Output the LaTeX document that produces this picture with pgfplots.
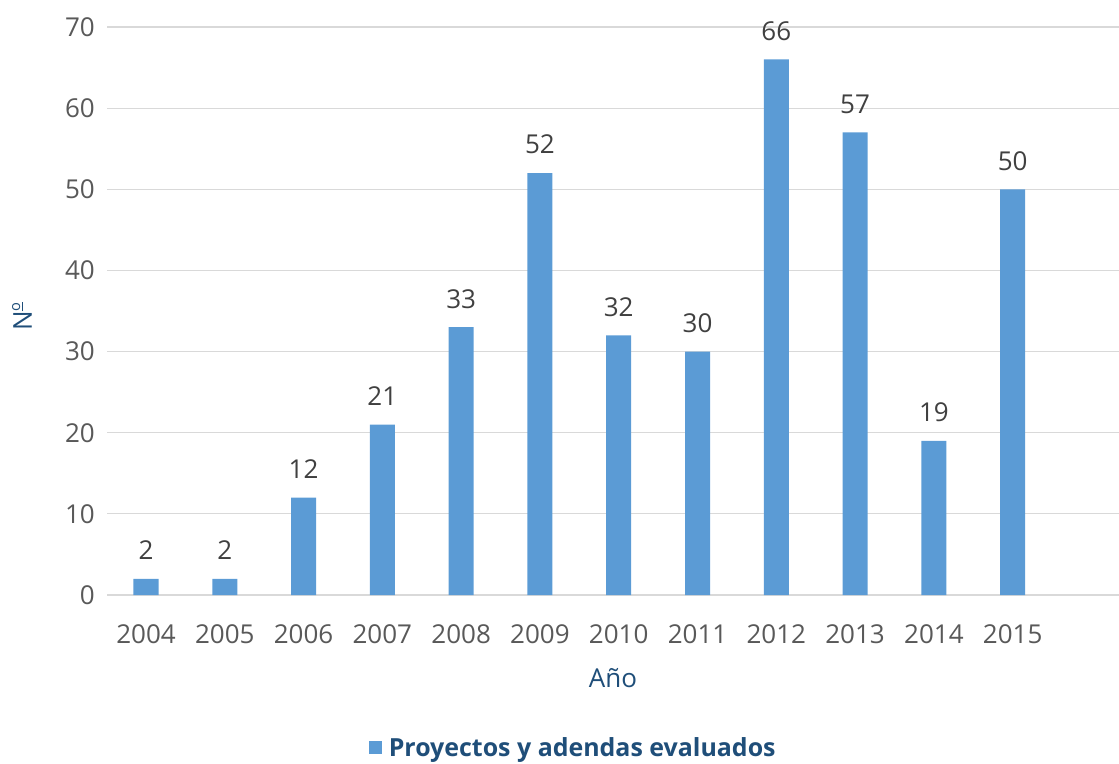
\documentclass[border=0pt]{standalone}
\usepackage{fontspec}
\setmainfont{Open Sans}
\usepackage{pgfplots}
\pgfplotsset{compat=1.18}
\definecolor{barblue}{HTML}{5B9BD5}
\definecolor{gridgray}{HTML}{D9D9D9}
\definecolor{tickgray}{HTML}{595959}
\definecolor{lblgray}{HTML}{404040}
\definecolor{darkblue}{HTML}{1F4E79}
\newcommand{\ordo}{\raisebox{0.32em}{\fontsize{11}{12}\selectfont\setbox0\hbox{o}\vbox{\copy0\kern1.2pt\hrule width\wd0 height 1.1pt}}}
\begin{document}
\begin{tikzpicture}
\begin{axis}[
  scale only axis,
  width=759pt, height=426pt,
  xmin=-0.495, xmax=12.35,
  ymin=0, ymax=70,
  ytick={0,10,...,70},
  xtick={0,...,11},
  xticklabels={2004,2005,2006,2007,2008,2009,2010,2011,2012,2013,2014,2015},
  /pgf/number format/assume math mode=true,
  axis line style={draw=none},
  major tick length=0pt,
  ymajorgrids,
  grid style={gridgray, line width=0.9pt},
  tick label style={font=\fontsize{19.5}{22}\selectfont, text=tickgray, inner sep=0pt},
  xticklabel style={anchor=north, yshift=-21.75pt},
  yticklabel style={anchor=east, xshift=-9pt},
  ylabel={N\ordo},
  ylabel style={at={(axis description cs:-0.084,0.49)}, anchor=center, font=\fontsize{19.5}{22}\selectfont, text=darkblue},
  xlabel={Año},
  xlabel style={at={(axis description cs:0.5,-0.146)}, anchor=center, font=\fontsize{19.5}{22}\selectfont, text=darkblue},
  legend style={at={(axis description cs:0.461,-0.269)}, anchor=center, draw=none, font=\fontsize{18.7}{22}\selectfont\bfseries, text=darkblue, inner sep=0pt},
  ybar, bar width=18.75pt,
  nodes near coords,
  every node near coord/.append style={anchor=south, inner sep=0pt, yshift=14pt, font=\fontsize{19.5}{22}\selectfont, text=lblgray},
]
\addplot[fill=barblue, draw=none, legend image code/.code={\fill[barblue] (0pt,-5pt) rectangle (10pt,5pt); \path (13pt,0pt);}] coordinates {
(0,2) (1,2) (2,12) (3,21) (4,33) (5,52) (6,32) (7,30) (8,66) (9,57) (10,19) (11,50)
};
\legend{Proyectos y adendas evaluados}
\coordinate (bl) at (rel axis cs:0,0);
\coordinate (tr) at (rel axis cs:1,1);
\end{axis}
\pgfresetboundingbox
\path ([xshift=-80.25pt,yshift=-126pt]bl) rectangle ([yshift=20.25pt]tr);
\end{tikzpicture}
\end{document}
